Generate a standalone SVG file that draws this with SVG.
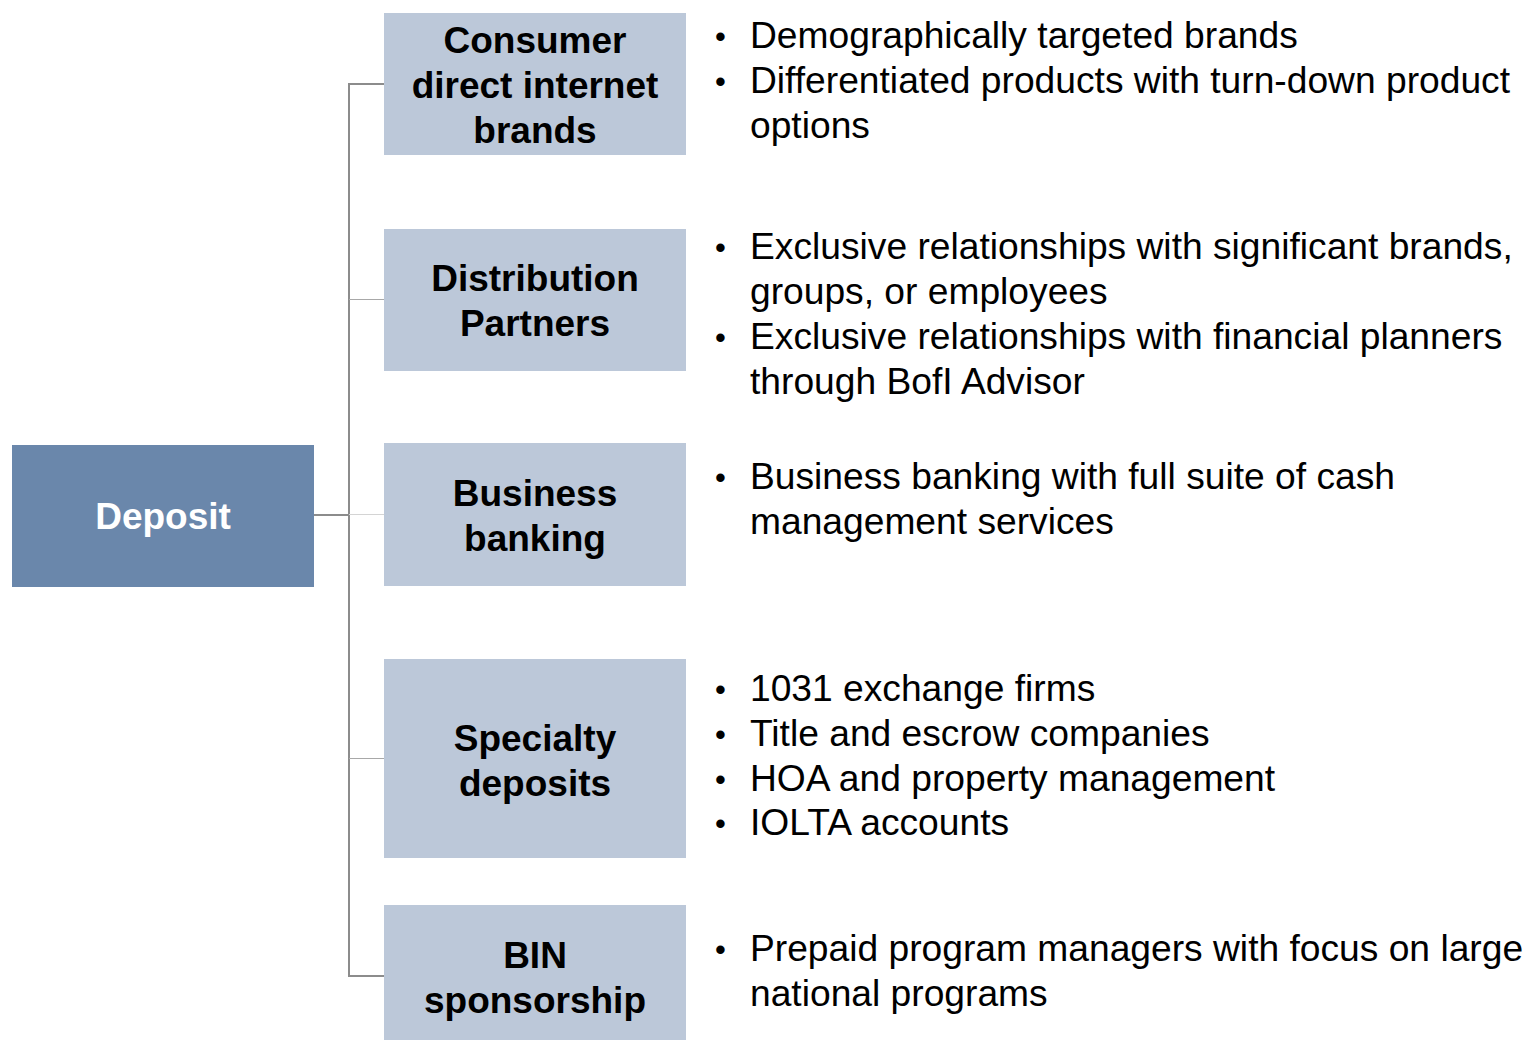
<svg xmlns="http://www.w3.org/2000/svg" width="1529" height="1040" viewBox="0 0 1529 1040">
<style>
.root{fill:#6a87ab}
.child{fill:#bcc8d9}
.rt{font-family:"Liberation Sans",Arial,sans-serif;font-size:37px;font-weight:bold;fill:#ffffff;text-anchor:middle}
.ct{font-family:"Liberation Sans",Arial,sans-serif;font-size:37px;font-weight:bold;fill:#000000;text-anchor:middle}
.bt{font-family:"Liberation Sans",Arial,sans-serif;font-size:37.2px;fill:#000000}
.bu{font-family:"Liberation Sans",Arial,sans-serif;font-size:31px;fill:#000000}
.dark{stroke:#8c8c8c;stroke-width:2;fill:none}
.light{stroke:#a8a8a8;stroke-width:1;fill:none}
.pale{stroke:#d4d4d4;stroke-width:1;fill:none}
</style>
<rect width="1529" height="1040" fill="#ffffff"/>
<g id="connectors">
<polyline class="dark" points="384,84 349,84 349,976 384,976"/>
<line class="dark" x1="314" y1="515" x2="349" y2="515"/>
<line class="light" x1="349" y1="299.5" x2="384" y2="299.5"/>
<line class="pale" x1="349" y1="514.5" x2="384" y2="514.5"/>
<line class="light" x1="349" y1="758.5" x2="384" y2="758.5"/>
</g>
<g id="deposit">
<rect class="root" x="12" y="445" width="302" height="142"/>
<text class="rt" x="163" y="529">Deposit</text>
</g>
<g id="consumer">
<rect class="child" x="384" y="13" width="302" height="142"/>
<text class="ct" x="535" y="53">Consumer</text>
<text class="ct" x="535" y="98">direct internet</text>
<text class="ct" x="535" y="143">brands</text>
</g>
<g id="distribution">
<rect class="child" x="384" y="229" width="302" height="142"/>
<text class="ct" x="535" y="291">Distribution</text>
<text class="ct" x="535" y="336">Partners</text>
</g>
<g id="business">
<rect class="child" x="384" y="443" width="302" height="143"/>
<text class="ct" x="535" y="506">Business</text>
<text class="ct" x="535" y="551">banking</text>
</g>
<g id="specialty">
<rect class="child" x="384" y="659" width="302" height="199"/>
<text class="ct" x="535" y="751">Specialty</text>
<text class="ct" x="535" y="796">deposits</text>
</g>
<g id="bin">
<rect class="child" x="384" y="905" width="302" height="135"/>
<text class="ct" x="535" y="968">BIN</text>
<text class="ct" x="535" y="1013">sponsorship</text>
</g>
<g id="bullets-consumer">
<text class="bu" x="715" y="47">•</text><text class="bt" x="750" y="48">Demographically targeted brands</text>
<text class="bu" x="715" y="92">•</text><text class="bt" x="750" y="93">Differentiated products with turn-down product</text>
<text class="bt" x="750" y="138">options</text>
</g>
<g id="bullets-distribution">
<text class="bu" x="715" y="258">•</text><text class="bt" x="750" y="259">Exclusive relationships with significant brands,</text>
<text class="bt" x="750" y="304">groups, or employees</text>
<text class="bu" x="715" y="348">•</text><text class="bt" x="750" y="349">Exclusive relationships with financial planners</text>
<text class="bt" x="750" y="394">through BofI Advisor</text>
</g>
<g id="bullets-business">
<text class="bu" x="715" y="488">•</text><text class="bt" x="750" y="489">Business banking with full suite of cash</text>
<text class="bt" x="750" y="534">management services</text>
</g>
<g id="bullets-specialty">
<text class="bu" x="715" y="700">•</text><text class="bt" x="750" y="701">1031 exchange firms</text>
<text class="bu" x="715" y="745">•</text><text class="bt" x="750" y="746">Title and escrow companies</text>
<text class="bu" x="715" y="790">•</text><text class="bt" x="750" y="791">HOA and property management</text>
<text class="bu" x="715" y="834">•</text><text class="bt" x="750" y="835">IOLTA accounts</text>
</g>
<g id="bullets-bin">
<text class="bu" x="715" y="960">•</text><text class="bt" x="750" y="961">Prepaid program managers with focus on large</text>
<text class="bt" x="750" y="1006">national programs</text>
</g>
</svg>
